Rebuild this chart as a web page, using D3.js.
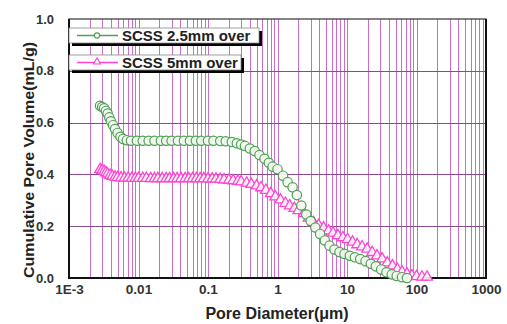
<!DOCTYPE html>
<html>
<head>
<meta charset="utf-8">
<script src="https://cdn.jsdelivr.net/npm/d3@7"></script>
<style>
  body { margin: 0; background: #fff; }
  svg { display: block; font-family: "Liberation Sans", Arial, sans-serif; }
</style>
</head>
<body>
<div id="chart"></div>
<script>
// pore diameter (um) and cumulative volume (mL/g)
const greenDiameter = [0.0028, 0.0030, 0.0032, 0.0034, 0.0036, 0.0038, 0.0040, 0.0043, 0.0046, 0.0050,
  0.0055, 0.0060, 0.0068, 0.0078, 0.0095, 0.0115, 0.014, 0.017, 0.021, 0.025,
  0.030, 0.037, 0.045, 0.055, 0.067, 0.080, 0.10, 0.12, 0.15, 0.18,
  0.22, 0.26, 0.30, 0.34, 0.40, 0.47, 0.55, 0.65, 0.75, 0.85,
  1.0, 1.2, 1.4, 1.65, 1.9, 2.2, 2.6, 3.0, 3.5, 4.1,
  4.8, 5.6, 6.6, 7.8, 9.2, 11, 13, 15.5, 18.5, 22,
  26, 31, 37, 44, 52, 62, 73]
const greenVolume = [0.665, 0.660, 0.655, 0.645, 0.635, 0.620, 0.605, 0.590, 0.575, 0.560,
  0.545, 0.537, 0.532, 0.530, 0.530, 0.530, 0.530, 0.530, 0.530, 0.530,
  0.530, 0.530, 0.530, 0.530, 0.530, 0.530, 0.530, 0.530, 0.529, 0.528,
  0.525, 0.520, 0.515, 0.510, 0.500, 0.490, 0.475, 0.460, 0.445, 0.430,
  0.420, 0.395, 0.370, 0.350, 0.320, 0.280, 0.245, 0.220, 0.195, 0.170,
  0.145, 0.125, 0.110, 0.100, 0.093, 0.086, 0.080, 0.073, 0.065, 0.055,
  0.045, 0.033, 0.022, 0.014, 0.008, 0.003, 0.000]

const pinkDiameter = [0.0028, 0.0030, 0.0032, 0.0034, 0.0036, 0.0039, 0.0042, 0.0046, 0.0050, 0.0056,
  0.0063, 0.0071, 0.0080, 0.0090, 0.010, 0.0115, 0.013, 0.015, 0.017, 0.019,
  0.022, 0.025, 0.028, 0.032, 0.036, 0.041, 0.047, 0.053, 0.060, 0.068,
  0.077, 0.087, 0.10, 0.115, 0.13, 0.15, 0.17, 0.20, 0.23, 0.27,
  0.30, 0.36, 0.42, 0.50, 0.58, 0.68, 0.80, 0.93, 1.1, 1.3,
  1.5, 1.75, 2.0, 2.4, 2.8, 3.3, 3.9, 4.6, 5.4, 6.3,
  7.4, 8.7, 10.2, 12, 14, 16.5, 19.5, 23, 27, 32,
  38, 45, 53, 62, 73, 86, 100, 120, 142]
const pinkVolume = [0.415, 0.412, 0.408, 0.403, 0.398, 0.393, 0.389, 0.386, 0.384, 0.383,
  0.382, 0.382, 0.381, 0.381, 0.381, 0.381, 0.381, 0.380, 0.380, 0.380,
  0.380, 0.380, 0.380, 0.380, 0.380, 0.380, 0.380, 0.380, 0.380, 0.380,
  0.380, 0.380, 0.379, 0.379, 0.378, 0.377, 0.375, 0.374, 0.372, 0.370,
  0.368, 0.363, 0.358, 0.352, 0.345, 0.335, 0.322, 0.310, 0.298, 0.285,
  0.275, 0.265, 0.257, 0.245, 0.228, 0.210, 0.200, 0.190, 0.178, 0.170,
  0.160, 0.152, 0.145, 0.135, 0.125, 0.117, 0.108, 0.095, 0.082, 0.070,
  0.055, 0.043, 0.030, 0.020, 0.012, 0.005, 0.002, 0.000, 0.000]

const xTicks = [0.001, 0.01, 0.1, 1, 10, 100, 1000]
const xTickLabels = ['1E-3', '0.01', '0.1', '1', '10', '100', '1000']
const yTicks = [0, 0.2, 0.4, 0.6, 0.8, 1.0]
const seriesNames = ['SCSS 2.5mm over', 'SCSS 5mm over']

const width = 507, height = 324
const margin = { left: 69, right: 21, top: 19, bottom: 46 }
const innerW = width - margin.left - margin.right
const innerH = height - margin.top - margin.bottom

const green = '#4f9f55'
const pink = '#ff44d0'

const svg = d3.select('#chart').append('svg')
  .attr('width', width)
  .attr('height', height)

const x = d3.scaleLog().domain([0.001, 1000]).range([margin.left, margin.left + innerW])
const y = d3.scaleLinear().domain([0, 1]).range([margin.top + innerH, margin.top])

// vertical grid: every log minor step
const minorTicks = []
for (let e = -3; e < 3; e++) {
  for (let m = 1; m <= 9; m++) minorTicks.push(m * Math.pow(10, e))
}
svg.append('g')
  .selectAll('line')
  .data(minorTicks.filter(d => d > 0.001))
  .enter().append('line')
  .attr('x1', d => Math.round(x(d)) + 0.5)
  .attr('x2', d => Math.round(x(d)) + 0.5)
  .attr('y1', y(1))
  .attr('y2', y(0))
  .attr('stroke', '#c155c6')
  .attr('stroke-opacity', 0.85)
  .attr('stroke-width', 1)

// horizontal grid
svg.append('g')
  .selectAll('line')
  .data(yTicks.filter(d => d > 0 && d < 1))
  .enter().append('line')
  .attr('x1', x(0.001))
  .attr('x2', x(1000))
  .attr('y1', d => Math.round(y(d)) + 0.5)
  .attr('y2', d => Math.round(y(d)) + 0.5)
  .attr('stroke', '#8a4a8e')
  .attr('stroke-width', 1)

// frame
svg.append('rect')
  .attr('x', margin.left)
  .attr('y', margin.top)
  .attr('width', innerW)
  .attr('height', innerH)
  .attr('fill', 'none')
  .attr('stroke', '#333')
  .attr('stroke-width', 1.2)
svg.append('path')
  .attr('d', `M${margin.left},${margin.top}V${margin.top + innerH}H${margin.left + innerW}V${margin.top}`)
  .attr('fill', 'none')
  .attr('stroke', '#111')
  .attr('stroke-width', 2)

// axes (labels only, grid draws the lines)
const xAxis = d3.axisBottom(x).tickValues(xTicks).tickFormat((d, i) => xTickLabels[i]).tickSize(0).tickPadding(6)
svg.append('g')
  .attr('transform', `translate(0,${margin.top + innerH})`)
  .call(xAxis)
  .call(g => g.select('.domain').remove())
  .selectAll('text')
  .attr('font-size', 13.5)
  .attr('font-weight', 'bold')
  .attr('fill', '#333')
  .attr('font-family', '"Liberation Sans", Arial, sans-serif')

const yAxis = d3.axisLeft(y).tickValues(yTicks).tickFormat(d3.format('.1f')).tickSize(0).tickPadding(15)
svg.append('g')
  .attr('transform', `translate(${margin.left},0)`)
  .call(yAxis)
  .call(g => g.select('.domain').remove())
  .selectAll('text')
  .attr('font-size', 13)
  .attr('font-weight', 'bold')
  .attr('fill', '#333')
  .attr('font-family', '"Liberation Sans", Arial, sans-serif')

// axis titles
svg.append('text')
  .attr('x', 277)
  .attr('y', 319)
  .attr('text-anchor', 'middle')
  .attr('font-size', 16)
  .attr('font-weight', 'bold')
  .attr('fill', '#222')
  .text('Pore Diameter(μm)')

svg.append('text')
  .attr('transform', 'translate(34,160) rotate(-90)')
  .attr('text-anchor', 'middle')
  .attr('font-size', 15)
  .attr('font-weight', 'bold')
  .attr('fill', '#222')
  .attr('textLength', 236)
  .attr('lengthAdjust', 'spacingAndGlyphs')
  .text('Cumulative Pore Volume(mL/g)')

// data
const greenData = greenDiameter.map((d, i) => ({ d, v: greenVolume[i] }))
const pinkData = pinkDiameter.map((d, i) => ({ d, v: pinkVolume[i] }))

const triangle = d3.symbol().type(d3.symbolTriangle).size(50)

svg.append('g')
  .selectAll('path')
  .data(pinkData)
  .enter().append('path')
  .attr('d', triangle)
  .attr('transform', p => `translate(${x(p.d)},${y(p.v) - 1})`)
  .attr('fill', '#fff')
  .attr('fill-opacity', 0.85)
  .attr('stroke', pink)
  .attr('stroke-width', 1.3)

svg.append('g')
  .selectAll('circle')
  .data(greenData)
  .enter().append('circle')
  .attr('cx', p => x(p.d))
  .attr('cy', p => y(p.v))
  .attr('r', 4.7)
  .attr('fill', '#f4fbf2')
  .attr('fill-opacity', 0.9)
  .attr('stroke', green)
  .attr('stroke-width', 1.2)

// legend
const legend = svg.append('g')
const boxes = [
  { name: seriesNames[0], color: green, top: 28, w: 190, mark: 'circle' },
  { name: seriesNames[1], color: pink, top: 55, w: 172, mark: 'triangle' }
]
boxes.forEach(b => {
  legend.append('rect')
    .attr('x', margin.left + 3).attr('y', b.top + 3)
    .attr('width', b.w).attr('height', 15)
    .attr('fill', '#000')
  legend.append('rect')
    .attr('x', margin.left).attr('y', b.top)
    .attr('width', b.w).attr('height', 15)
    .attr('fill', '#fff')
    .attr('stroke', '#888')
    .attr('stroke-width', 0.8)
  const cy = b.top + 7.5
  legend.append('line')
    .attr('x1', 77).attr('x2', 118)
    .attr('y1', cy).attr('y2', cy)
    .attr('stroke', b.color).attr('stroke-width', 1.3)
  if (b.mark === 'circle') {
    legend.append('circle')
      .attr('cx', 97).attr('cy', cy).attr('r', 2.6)
      .attr('fill', '#fff').attr('stroke', b.color).attr('stroke-width', 1.1)
  } else {
    legend.append('path')
      .attr('d', d3.symbol().type(d3.symbolTriangle).size(22))
      .attr('transform', `translate(97,${cy - 0.5})`)
      .attr('fill', '#fff').attr('stroke', b.color).attr('stroke-width', 1.1)
  }
  legend.append('text')
    .attr('x', 122).attr('y', cy + 5.5)
    .attr('font-size', 15)
    .attr('font-weight', 'bold')
    .attr('fill', '#222')
    .text(b.name)
})
</script>
</body>
</html>
